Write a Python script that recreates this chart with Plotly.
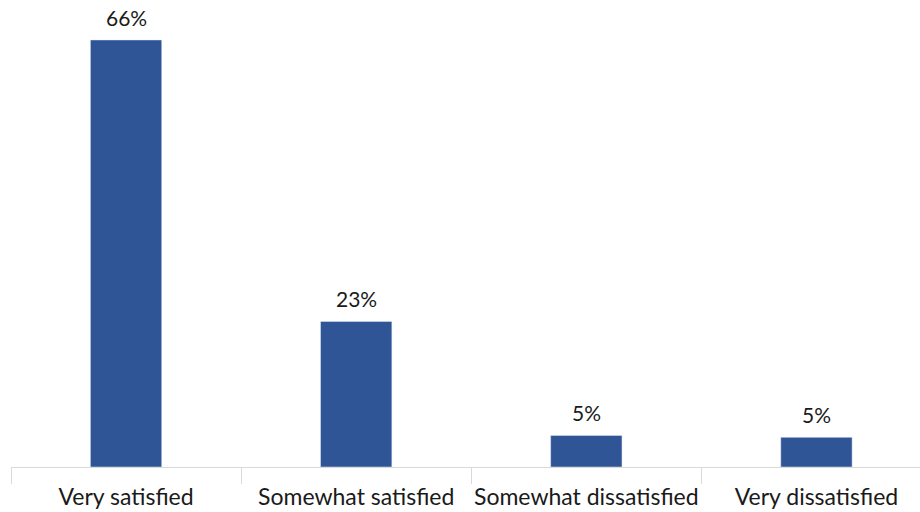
import plotly.graph_objects as go

categories = ["Very satisfied", "Somewhat satisfied", "Somewhat dissatisfied", "Very dissatisfied"]
values = [66.3, 22.6, 4.9, 4.6]
labels = ["66%", "23%", "5%", "5%"]

FONT = "Lato"

fig = go.Figure(go.Bar(
    x=categories, y=values,
    marker_color="#2F5597", width=0.31,
))
for c, v, t in zip(categories, values, labels):
    fig.add_annotation(x=c, y=v, text=t, showarrow=False, yanchor="bottom", yshift=8,
                       font=dict(size=21, color="#1a1a1a", family=FONT))
fig.update_layout(
    width=920, height=512, margin=dict(l=11, r=0, t=0, b=45),
    plot_bgcolor="white", paper_bgcolor="white", showlegend=False,
    font=dict(family=FONT, size=23, color="#1a1a1a"),
)
fig.update_xaxes(range=[-0.5, 3.45], showline=True, linecolor="#d9d9d9", linewidth=1,
                 ticks="outside", tickson="boundaries", ticklen=16, tickcolor="#d9d9d9",
                 tickangle=0, ticklabelstandoff=9, showgrid=False, automargin=False)
fig.update_yaxes(range=[0, 72.5], visible=False, showgrid=False, automargin=False)
fig.write_html("out.html", config={"displayModeBar": False},
               post_script="document.body.style.margin='0';")
